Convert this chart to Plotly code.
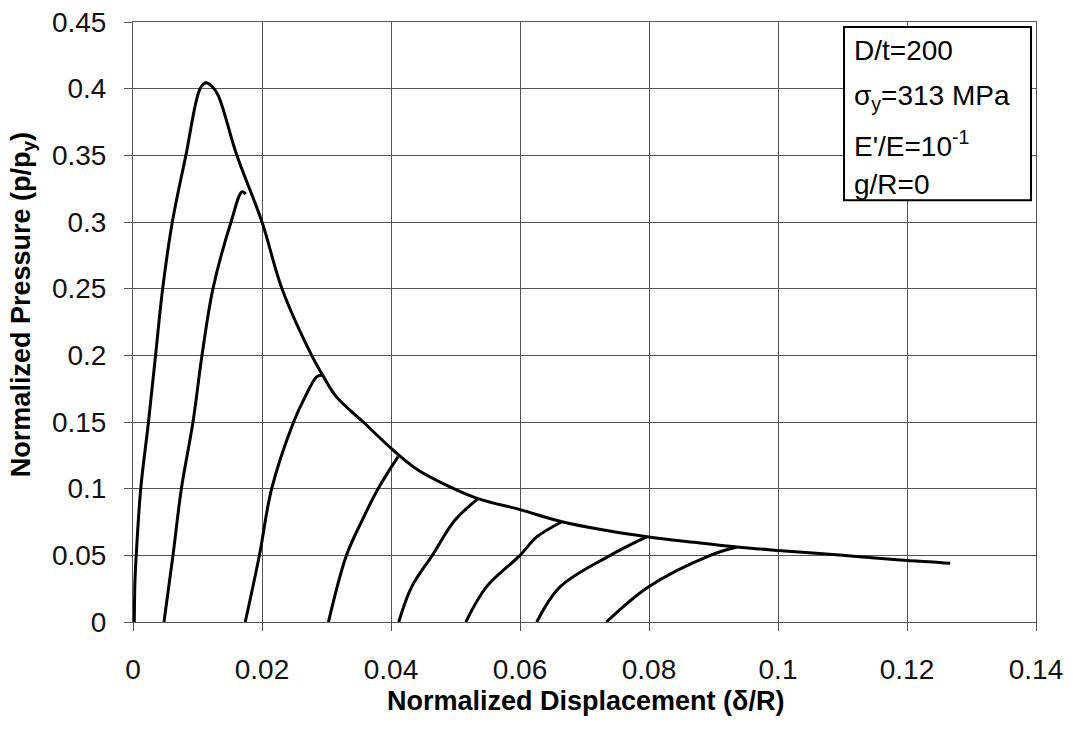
import plotly.graph_objects as go

# ---- data ----
x_env = [0.0002, 0.0003, 0.0005, 0.0012, 0.0024, 0.0035, 0.0046, 0.0061, 0.0082, 0.0104, 0.0113,
         0.0122, 0.0132, 0.0161, 0.0200, 0.0231, 0.0277, 0.0293, 0.0315, 0.0357, 0.0403,
         0.0440, 0.0480, 0.0535, 0.0600, 0.0665, 0.0730, 0.0797, 0.0870, 0.0936, 0.1000,
         0.1100, 0.1189, 0.1250, 0.1267]
y_env = [0.0, 0.03, 0.05, 0.10, 0.15, 0.20, 0.25, 0.30, 0.35, 0.40, 0.4045,
         0.402, 0.395, 0.35, 0.30, 0.25, 0.20, 0.186, 0.169, 0.150, 0.129,
         0.1145, 0.1040, 0.0925, 0.0843, 0.0752, 0.0690, 0.0640, 0.0598, 0.0563, 0.0537,
         0.0500, 0.0465, 0.0447, 0.0440]

x_c2 = [0.0048, 0.0062, 0.0075, 0.0093, 0.0107, 0.0124, 0.0152, 0.0169, 0.0175]
y_c2 = [0.0, 0.05, 0.10, 0.15, 0.20, 0.25, 0.30, 0.3226, 0.321]

x_c3 = [0.0174, 0.0196, 0.0215, 0.0249, 0.0264, 0.0285, 0.0293]
y_c3 = [0.0, 0.05, 0.10, 0.15, 0.166, 0.184, 0.185]

x_c4 = [0.0303, 0.0331, 0.0356, 0.0380, 0.0411]
y_c4 = [0.0, 0.05, 0.077, 0.10, 0.124]

x_c5 = [0.0412, 0.0432, 0.0464, 0.0499, 0.0535]
y_c5 = [0.0, 0.0263, 0.05, 0.0763, 0.0925]

x_c6 = [0.0516, 0.0548, 0.0600, 0.0626, 0.0665]
y_c6 = [0.0, 0.0263, 0.05, 0.0638, 0.0752]

x_c7 = [0.0626, 0.0662, 0.0740, 0.0797]
y_c7 = [0.0, 0.0263, 0.05, 0.0640]

x_c8 = [0.0734, 0.0799, 0.0895, 0.0936]
y_c8 = [0.0, 0.0263, 0.05, 0.0563]

curves = [(x_env, y_env), (x_c2, y_c2), (x_c3, y_c3), (x_c4, y_c4),
          (x_c5, y_c5), (x_c6, y_c6), (x_c7, y_c7), (x_c8, y_c8)]

x_ticks = [0, 0.02, 0.04, 0.06, 0.08, 0.1, 0.12, 0.14]
y_ticks = [0, 0.05, 0.1, 0.15, 0.2, 0.25, 0.3, 0.35, 0.4, 0.45]

legend_lines = ["D/t=200", "σ<sub>y</sub>=313 MPa", "E'/E=10<sup>-1</sup>", "g/R=0"]

x_title = "Normalized Displacement (δ/R)"
y_title = "Normalized Pressure (p/p<sub>y</sub>)"

# ---- figure ----
FONT = "Liberation Sans, Arial, sans-serif"
fig = go.Figure()
for cx, cy in curves:
    fig.add_trace(go.Scatter(x=cx, y=cy, mode="lines",
                             line=dict(color="black", width=3, shape="spline", smoothing=1.0),
                             showlegend=False, hoverinfo="skip"))

axis_common = dict(showgrid=True, gridcolor="#555555", gridwidth=1,
                   showline=True, linecolor="#555555", linewidth=1, mirror=True,
                   ticks="outside", ticklen=8, tickcolor="#555555",
                   tickfont=dict(family=FONT, size=28, color="#111111"),
                   zeroline=False, automargin=False, ticklabeloverflow="allow")

fig.update_xaxes(range=[0, 0.14], tickvals=x_ticks, ticklabelstandoff=14, **axis_common)
fig.update_yaxes(range=[0, 0.45], tickvals=y_ticks, ticklabelstandoff=12, **axis_common)

fig.update_layout(
    width=1073, height=731,
    margin=dict(l=133, r=37, t=22, b=109, autoexpand=False),
    plot_bgcolor="white", paper_bgcolor="white",
    font=dict(family=FONT, color="black"),
)

# text box
fig.add_shape(type="rect", xref="paper", yref="paper",
              x0=0.7874, x1=0.9945, y0=0.7028, y1=0.9917,
              line=dict(color="black", width=2), fillcolor="white", layer="above")
ys = [0.952, 0.875, 0.796, 0.729]
for t, yy in zip(legend_lines, ys):
    fig.add_annotation(text=t, xref="paper", yref="paper", x=0.7962, y=yy,
                       xanchor="left", yanchor="middle", showarrow=False,
                       font=dict(family=FONT, size=28, color="black"))

fig.add_annotation(text="<b>" + x_title + "</b>", xref="paper", yref="paper",
                   x=0.501, y=-0.132, xanchor="center", yanchor="middle", showarrow=False,
                   font=dict(family=FONT, size=27, color="black"))
fig.add_annotation(text="<b>" + y_title + "</b>", xref="paper", yref="paper",
                   x=-0.122, y=0.5295, xanchor="center", yanchor="middle", showarrow=False,
                   textangle=-90, font=dict(family=FONT, size=27, color="black"))

# remove the default 8 px page margin so the figure fills the window exactly
fig.write_html("out.html", config={"displayModeBar": False},
               post_script="document.body.style.margin='0';")
